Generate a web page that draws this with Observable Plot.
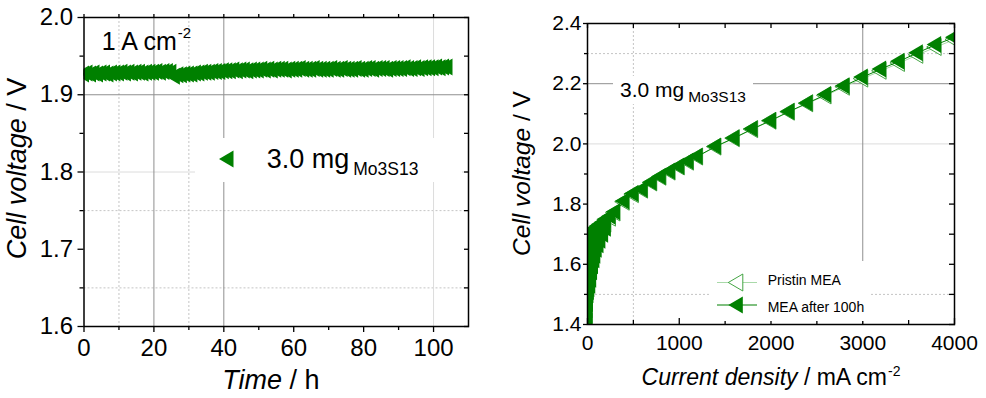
<!DOCTYPE html>
<html><head><meta charset="utf-8">
<script src="https://cdn.jsdelivr.net/npm/d3@7"></script>
<script src="https://cdn.jsdelivr.net/npm/@observablehq/plot@0.6"></script>
<style>
body{margin:0;background:#fff;}
#wrap{position:relative;width:986px;height:398px;overflow:hidden;background:#fff;}
#wrap svg{position:absolute;top:0;}
</style></head><body><div id="wrap"></div>
<script>
// ---------------- data ----------------
// Left panel: stability test at 1 A cm-2
const timeHours = [0,1,2,3,4,5,6,7,8,9,10,11,12,13,14,15,16,17,18,19,20,21,22,23,24,25,26,27,28,29,30,31,32,33,34,35,36,37,38,39,40,41,42,43,44,45,46,47,48,49,50,51,52,53,54,55,56,57,58,59,60,61,62,63,64,65,66,67,68,69,70,71,72,73,74,75,76,77,78,79,80,81,82,83,84,85,86,87,88,89,90,91,92,93,94,95,96,97,98,99,100,101,102,103,104];
const stabilityVoltage = [
  1.927,1.928,1.927,1.928,1.927,1.928,1.928,1.927,1.928,1.928,
  1.928,1.929,1.928,1.929,1.928,1.929,1.929,1.928,1.929,1.929,
  1.929,1.930,1.929,1.930,1.930,1.929,
  1.924,1.926,1.926,1.927,
  1.927,1.927,1.928,1.928,1.929,1.929,1.929,1.930,1.930,1.930,
  1.931,1.931,1.931,1.932,1.931,1.932,1.932,1.931,1.932,1.932,
  1.932,1.933,1.932,1.933,1.932,1.933,1.933,1.933,1.932,1.933,
  1.933,1.933,1.934,1.933,1.933,1.933,1.934,1.933,1.933,1.933,
  1.933,1.934,1.933,1.933,1.934,1.933,1.933,1.933,1.934,1.933,
  1.933,1.934,1.934,1.933,1.934,1.934,1.934,1.933,1.934,1.934,
  1.934,1.934,1.935,1.934,1.934,1.935,1.934,1.935,1.935,1.935,
  1.935,1.936,1.935,1.936,1.936];

// Right panel: polarization curves (mA cm-2, V)
const pristineCurrent = [0,5,10,20,30,50,75,100,140,200,250,300,400,500,600,700,800,900,1000,1100,1200,1400,1600,1800,2000,2200,2400,2600,2800,3000,3200,3400,3600,3800,4000];
const pristineVoltage = [1.49,1.60,1.64,1.665,1.675,1.69,1.70,1.708,1.718,1.735,1.755,1.772,1.808,1.833,1.848,1.872,1.891,1.908,1.925,1.941,1.958,1.991,2.019,2.049,2.077,2.107,2.135,2.161,2.190,2.217,2.243,2.269,2.296,2.322,2.347];
const afterCurrent = [
  0,0,0,0, 2,2,2,2, 5,5,5,5, 10,10,10,10,10, 15,15,15,15,15, 20,20,20,20,20,
  30,30,30,30,30, 40,40,40,40,40, 50,50,50,50, 60,60,60,60, 75,75,75,75, 85,85,85,85,
  100,100,100, 120,120,120, 140,140,140, 170,170,170, 200,200,
  250,300,400,500,600,700,800,900,1000,1100,1200,1400,1600,1800,2000,2200,2400,2600,2800,3000,3200,3400,3600,3800,4000];
const afterVoltage = [
  1.41,1.45,1.49,1.53, 1.43,1.48,1.53,1.58, 1.47,1.52,1.57,1.62, 1.50,1.55,1.60,1.645,1.68,
  1.51,1.56,1.61,1.655,1.685, 1.52,1.57,1.62,1.66,1.69,
  1.53,1.58,1.63,1.67,1.695, 1.55,1.60,1.645,1.685,1.70, 1.575,1.62,1.66,1.705,
  1.595,1.635,1.675,1.708, 1.615,1.65,1.685,1.715, 1.63,1.665,1.70,1.718,
  1.65,1.69,1.722, 1.665,1.70,1.728, 1.68,1.71,1.733, 1.70,1.725,1.74, 1.72,1.75,
  1.76,1.775,1.81,1.835,1.849,1.873,1.892,1.909,1.926,1.942,1.959,1.992,2.020,2.050,2.078,2.108,2.136,2.164,2.193,2.222,2.249,2.275,2.303,2.330,2.354];

// ticks & grid
const leftXTicks = [0,20,40,60,80,100];
const leftXMinor = [10,30,50,70,90];
const leftXAll = [0,10,20,30,40,50,60,70,80,90,100];
const leftYTicks = [1.6,1.7,1.8,1.9,2.0];
const leftYMinor = [1.65,1.75,1.85,1.95];
const leftGridXSolid = [20,40];
const leftGridXLight = [100];
const leftGridXDotted = [10,30];
const leftGridYSolid = [1.9];
const leftGridYLight = [1.8];
const leftGridYDotted = [1.65,1.75];

const rightXTicks = [0,1000,2000,3000,4000];
const rightXMinor = [500,1500,2500,3500];
const rightYTicks = [1.4,1.6,1.8,2.0,2.2,2.4];
const rightYMinor = [1.5,1.7,1.9,2.1,2.3];
const rightGridXSolid = [3000];
const rightGridXDotted = [500];
const rightGridYSolid = [2.2];
const rightGridYLight = [2.0];
const rightGridYDotted = [1.5,2.3];

// ---------------- styles ----------------
const FONT = '"Liberation Sans", Arial, Helvetica, sans-serif';
const GREEN = "#008000";
const PRISTINE_STROKE = "#2f9a2f";
const PRISTINE_LINE = "#a9d9a9";
const GRID_SOLID = "#8f8f8f", GRID_LIGHT = "#dcdcdc", GRID_DOT = "#c4c4c4";

// left-pointing triangle symbol (centroid-centred)
const triLeft = {draw(ctx) { ctx.moveTo(-9.5, 0); ctx.lineTo(5, -8.5); ctx.lineTo(5, 8.5); ctx.closePath(); }};
const triPath = "M-9.5,0L5,-8.5L5,8.5Z";
const blank = () => "";

const stab = timeHours.map((t, i) => ({t, v: stabilityVoltage[i]}));
const pristine = pristineCurrent.map((j, i) => ({j, v: pristineVoltage[i]}));
const after = afterCurrent.map((j, i) => ({j, v: afterVoltage[i]}));

const wrap = document.getElementById("wrap");

// ---------------- left plot ----------------
const left = Plot.plot({
  width: 490, height: 398,
  marginLeft: 83.5, marginRight: 22, marginTop: 17, marginBottom: 72,
  style: {fontFamily: FONT, fontSize: "24px", color: "#000", background: "transparent"},
  x: {domain: [0, 110], label: null, axis: null},
  y: {domain: [1.6, 2.0], label: null, axis: null},
  marks: [
    Plot.ruleX(leftGridXDotted, {stroke: GRID_DOT, strokeDasharray: "2,2"}),
    Plot.ruleY(leftGridYDotted, {stroke: GRID_DOT, strokeDasharray: "2,2"}),
    Plot.ruleX(leftGridXLight, {stroke: GRID_LIGHT}),
    Plot.ruleY(leftGridYLight, {stroke: GRID_LIGHT}),
    Plot.ruleX(leftGridXSolid, {stroke: GRID_SOLID}),
    Plot.ruleY(leftGridYSolid, {stroke: GRID_SOLID}),
    Plot.dot(stab, {x: "t", y: "v", symbol: triLeft, fill: GREEN, clip: true}),
    Plot.frame({stroke: "#000", strokeWidth: 1.5}),
    Plot.axisX(leftXTicks, {anchor: "bottom", tickSize: 6, tickPadding: 6, fontSize: 24, strokeWidth: 1.3, tickFormat: d => String(d), label: null}),
    Plot.axisX(leftXMinor, {anchor: "bottom", tickSize: 4, strokeWidth: 1.3, tickFormat: blank, label: null}),
    Plot.axisX(leftXAll, {anchor: "top", tickSize: 4, strokeWidth: 1.3, tickFormat: blank, label: null}),
    Plot.axisY(leftYTicks, {anchor: "left", tickSize: 6, tickPadding: 5, fontSize: 24, strokeWidth: 1.3, tickFormat: d3.format(".1f"), label: null}),
    Plot.axisY(leftYMinor, {anchor: "left", tickSize: 4, strokeWidth: 1.3, tickFormat: blank, label: null}),
    Plot.axisY(leftYTicks.concat(leftYMinor), {anchor: "right", tickSize: -5, strokeWidth: 1.3, tickFormat: blank, label: null})
  ]
});
left.style.left = "0px";
wrap.appendChild(left);

// ---------------- right plot ----------------
const right = Plot.plot({
  width: 496, height: 398,
  marginLeft: 97, marginRight: 32, marginTop: 23, marginBottom: 74,
  style: {fontFamily: FONT, fontSize: "21px", color: "#000", background: "transparent"},
  x: {domain: [0, 4000], label: null, axis: null},
  y: {domain: [1.4, 2.4], label: null, axis: null},
  marks: [
    Plot.ruleX(rightGridXDotted, {stroke: GRID_DOT, strokeDasharray: "2,2"}),
    Plot.ruleY(rightGridYDotted, {stroke: GRID_DOT, strokeDasharray: "2,2"}),
    Plot.ruleY(rightGridYLight, {stroke: GRID_LIGHT}),
    Plot.ruleX(rightGridXSolid, {stroke: GRID_SOLID}),
    Plot.ruleY(rightGridYSolid, {stroke: GRID_SOLID}),
    Plot.line(pristine, {x: "j", y: "v", stroke: PRISTINE_LINE, strokeWidth: 1, clip: true}),
    Plot.dot(pristine, {x: "j", y: "v", symbol: triLeft, fill: "#fff", stroke: PRISTINE_STROKE, strokeWidth: 0.9, clip: true}),
    Plot.line(after, {x: "j", y: "v", stroke: GREEN, strokeWidth: 1, clip: true}),
    Plot.dot(after, {x: "j", y: "v", symbol: triLeft, fill: GREEN, clip: true}),
    Plot.frame({stroke: "#000", strokeWidth: 1.5}),
    Plot.axisX(rightXTicks, {anchor: "bottom", tickSize: 0, tickPadding: 11, fontSize: 21, tickFormat: d => String(d), label: null}),
    Plot.axisX(rightXTicks, {anchor: "bottom", tickSize: -6, strokeWidth: 1.3, tickFormat: blank, label: null}),
    Plot.axisX(rightXMinor, {anchor: "bottom", tickSize: -4, strokeWidth: 1.3, tickFormat: blank, label: null}),
    Plot.axisX(rightXTicks.concat(rightXMinor), {anchor: "top", tickSize: -4, strokeWidth: 1.3, tickFormat: blank, label: null}),
    Plot.axisY(rightYTicks, {anchor: "left", tickSize: 4, tickPadding: 2, fontSize: 21, strokeWidth: 1.3, tickFormat: d3.format(".1f"), label: null}),
    Plot.axisY(rightYMinor, {anchor: "left", tickSize: 3, strokeWidth: 1.3, tickFormat: blank, label: null}),
    Plot.axisY(rightYTicks.concat(rightYMinor), {anchor: "right", tickSize: -6, strokeWidth: 1.3, tickFormat: blank, label: null})
  ]
});
right.style.left = "490px";
wrap.appendChild(right);

// ---------------- annotations ----------------
function txt(svg, x, y, size, parts, opts = {}) {
  const t = svg.append("text").attr("x", x).attr("y", y).attr("font-size", size)
    .attr("fill", "#000").attr("font-family", FONT).attr("text-anchor", opts.anchor || "start");
  if (opts.rotate) t.attr("transform", `rotate(${opts.rotate},${x},${y})`);
  for (const p of parts) {
    const s = t.append("tspan").text(p.text);
    if (p.italic) s.attr("font-style", "italic");
    if (p.size) s.attr("font-size", p.size);
    if (p.dy) s.attr("dy", p.dy);
    if (p.dx) s.attr("dx", p.dx);
  }
  return t;
}

const L = d3.select(left);
L.append("rect").attr("x", 195).attr("y", 138).attr("width", 267).attr("height", 44).attr("fill", "#fff");
L.append("path").attr("d", triPath).attr("transform", "translate(228.5,159)").attr("fill", GREEN);
txt(L, 266.7, 168.3, 27, [{text: "3.0 mg"}, {text: "Mo3S13", size: 17.5, dy: 7, dx: 4}]);
txt(L, 101.7, 50, 25, [{text: "1 A cm"}, {text: "-2", size: 15, dy: -12.5, dx: 1}]);
txt(L, 271, 389, 27, [{text: "Time", italic: true}, {text: " / h"}], {anchor: "middle"});
txt(L, 26, 168.5, 27, [{text: "Cell voltage", italic: true}, {text: " / V"}], {anchor: "middle", rotate: -90});

const R = d3.select(right);
R.append("rect").attr("x", 123).attr("y", 76).attr("width", 140).attr("height", 28).attr("fill", "#fff");
txt(R, 130, 97, 21, [{text: "3.0 mg"}, {text: "Mo3S13", size: 15.5, dy: 5, dx: 4}]);
R.append("rect").attr("x", 220).attr("y", 261).attr("width", 160).attr("height", 60).attr("fill", "#fff");
R.append("line").attr("x1", 227).attr("x2", 267).attr("y1", 282.5).attr("y2", 282.5).attr("stroke", PRISTINE_LINE).attr("stroke-width", 1.2);
R.append("path").attr("d", triPath).attr("transform", "translate(247.8,282.5)").attr("fill", "#fff").attr("stroke", PRISTINE_STROKE).attr("stroke-width", 0.9);
R.append("line").attr("x1", 227).attr("x2", 267).attr("y1", 305).attr("y2", 305).attr("stroke", GREEN).attr("stroke-width", 1.2);
R.append("path").attr("d", triPath).attr("transform", "translate(247.8,305)").attr("fill", GREEN);
txt(R, 277.7, 285, 14, [{text: "Pristin MEA"}]);
txt(R, 277.7, 312, 14, [{text: "MEA after 100h"}]);
txt(R, 281, 385, 23, [{text: "Current density", italic: true}, {text: " / mA cm"}, {text: "-2", size: 14, dy: -9, dx: 1}], {anchor: "middle"});
txt(R, 40, 173.5, 24.5, [{text: "Cell voltage", italic: true}, {text: " / V"}], {anchor: "middle", rotate: -90});
</script>
</body></html>
